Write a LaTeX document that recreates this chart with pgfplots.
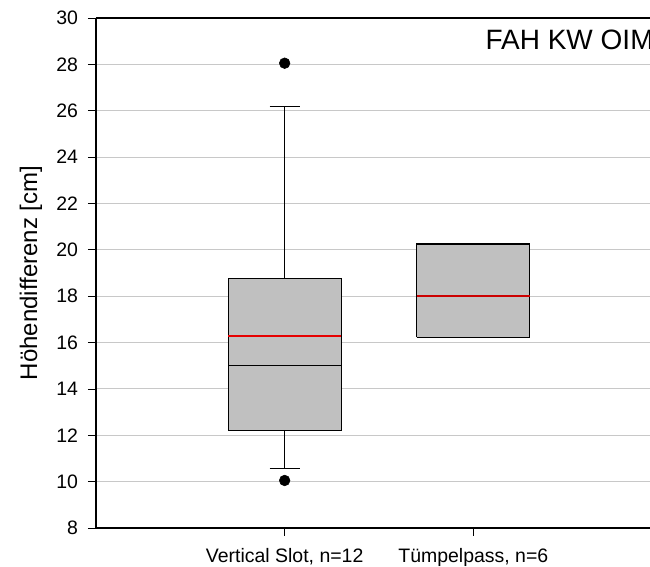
\documentclass[border=0pt]{standalone}
\usepackage{pgfplots}
\pgfplotsset{compat=1.18}
\usepackage{fontspec}
\setmainfont{Liberation Sans}
\definecolor{boxgray}{HTML}{C0C0C0}
\definecolor{gridgray}{HTML}{C8C8C8}
\definecolor{meanred}{RGB}{230,0,0}
\begin{document}
\begin{tikzpicture}
\useasboundingbox (-72pt,-29.25pt) rectangle (415.5pt,396pt);
\begin{axis}[
  at={(0,0)}, anchor=south west,
  scale only axis, width=424.5pt, height=382.5pt,
  xmin=0, xmax=3, ymin=8, ymax=30,
  clip=false,
  axis x line=box, axis y line=left,
  axis line style={-, line width=0.8pt, black},
  xtick={1,2},
  xticklabels={{Vertical Slot, n=12},{Tümpelpass, n=6}},
  ytick={8,10,...,30},
  tick align=outside, major tick length=6pt,
  xtick pos=bottom, ytick pos=left,
  tick style={black, line width=0.6pt},
  ymajorgrids, major grid style={gridgray, line width=0.75pt},
  tick label style={font=\fontsize{14.6}{17}\selectfont},
  yticklabel style={xshift=-4pt},
  xticklabel style={yshift=-6pt},
  /pgf/number format/assume math mode=true,
  ylabel={Höhendifferenz [cm]},
  ylabel style={font=\fontsize{18}{21}\selectfont, at={(axis description cs:-0.1042,0.5)}, anchor=base},
]
% boxes
\addplot[fill=boxgray, draw=black, line width=0.8pt] coordinates {(0.7,12.22) (1.3,12.22) (1.3,18.75) (0.7,18.75) (0.7,12.22)};
\addplot[fill=boxgray, draw=black, line width=0.8pt] coordinates {(1.7,16.22) (2.3,16.22) (2.3,20.25) (1.7,20.25) (1.7,16.22)};
% whiskers and caps
\addplot[black, line width=0.8pt] coordinates {(1,18.75) (1,26.2)};
\addplot[black, line width=0.8pt] coordinates {(0.92,26.2) (1.08,26.2)};
\addplot[black, line width=0.8pt] coordinates {(1,12.22) (1,10.55)};
\addplot[black, line width=0.8pt] coordinates {(0.92,10.55) (1.08,10.55)};
% medians
\addplot[black, line width=0.8pt] coordinates {(0.7,15) (1.3,15)};
% outliers
\addplot[only marks, mark=*, mark size=4pt, black] coordinates {(1,28.05) (1,10.05)};
% means
\addplot[color=red!80!black, line width=1.2pt] coordinates {(1.7,18) (2.3,18)};
\addplot[color=meanred, line width=1.5pt] coordinates {(0.7,16.28) (1.3,16.28)};
\node[anchor=base west, font=\fontsize{21}{25}\selectfont] at (axis cs:2.04,28.62) {FAH KW OIM};
\end{axis}
\end{tikzpicture}
\end{document}
